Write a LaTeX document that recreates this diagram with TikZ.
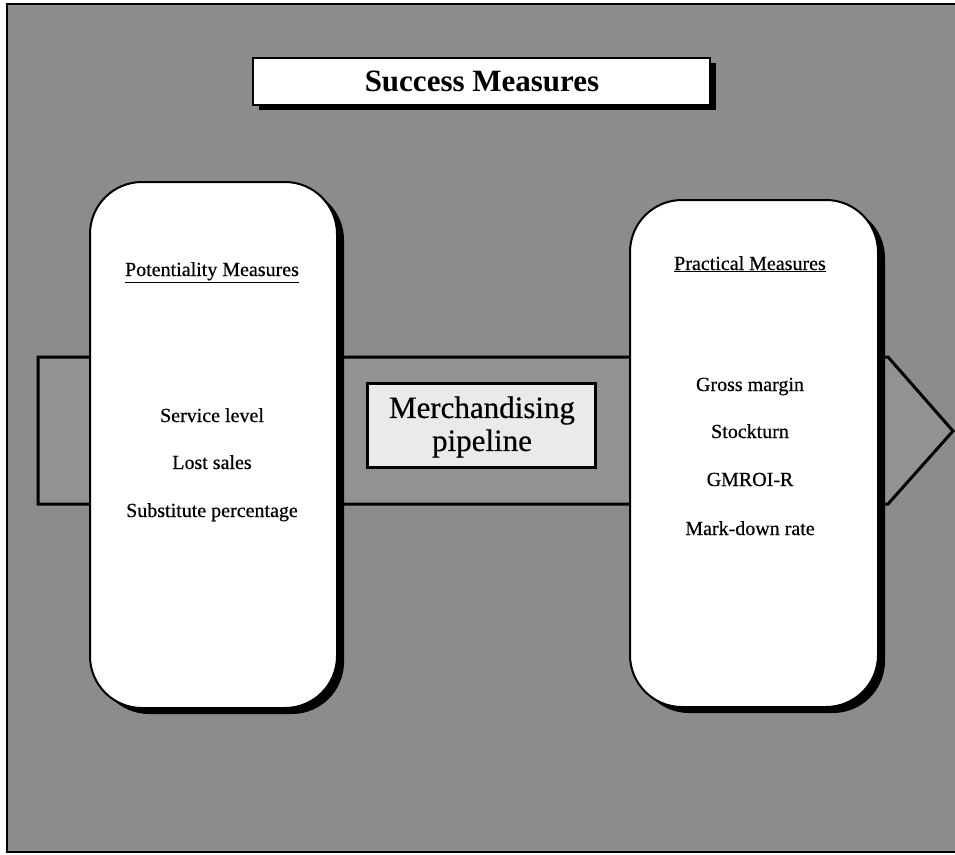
\documentclass[tikz,border=0pt]{standalone}
\usepackage{fontspec}
\setmainfont{Liberation Serif}
% slightly heavier serif for the printed labels
\newfontfamily\inkfont{Liberation Serif}[FakeBold=0.5]
\usetikzlibrary{shadows}
\definecolor{bggray}{RGB}{140,140,140}
\definecolor{arrowgray}{RGB}{146,146,146}
\definecolor{labelfill}{RGB}{234,234,234}
\begin{document}
\begin{tikzpicture}[x=1pt,y=-1pt,
  panel/.style={draw=black, line width=2pt, fill=white, rounded corners=52pt,
    inner sep=0pt,
    drop shadow={shadow xshift=7pt, shadow yshift=-6pt, fill=black, opacity=1}},
  titlebox/.style={draw=black, line width=2pt, fill=white, inner sep=0pt,
    drop shadow={shadow xshift=6pt, shadow yshift=-5pt, fill=black, opacity=1}},
  pipebox/.style={draw=black, line width=3pt, fill=labelfill, inner sep=0pt},
  head/.style={anchor=base, inner sep=0pt, font=\inkfont\fontsize{20}{24}\selectfont},
  item/.style={anchor=base, inner sep=0pt, font=\inkfont\fontsize{20}{24}\selectfont}]
\useasboundingbox (0,0) rectangle (955,854);
% textured grey page
\fill[bggray] (7,4) rectangle (960,852);
\draw[line width=1.2pt] (960,4) -- (7,4) -- (7,852) -- (960,852);

% pipeline arrow running behind the panels
\draw[line width=3pt, fill=arrowgray, line join=miter]
  (38,357) -- (888,357) -- (953,431) -- (888,504) -- (38,504) -- cycle;

% title
\node[titlebox, minimum width=457pt, minimum height=47pt] (title) at (481.5,81.5) {};
\node[anchor=base, inner sep=0pt, font=\fontsize{31}{36}\selectfont\bfseries] (titletext) at (482,91) {Success Measures};

% left panel
\node[panel, minimum width=247pt, minimum height=526pt] (left) at (213.5,445) {};
\node[head] (lefthead) at (212,276) {\underline{Potentiality Measures}};
\node[item] (l1) at (212,422) {Service level};
\node[item] (l2) at (212,469) {Lost sales};
\node[item] (l3) at (212,517) {Substitute percentage};

% right panel
\node[panel, minimum width=248pt, minimum height=507pt] (right) at (754,453.5) {};
\node[head] (righthead) at (750,270) {\underline{Practical Measures}};
\node[item] (r1) at (750,391) {Gross margin};
\node[item] (r2) at (750,438) {Stockturn};
\node[item] (r3) at (750,486) {GMROI-R};
\node[item] (r4) at (750,535) {Mark-down rate};

% pipeline label
\node[pipebox, minimum width=228pt, minimum height=84pt] (pipe) at (481,425) {};
\node[align=center, inner sep=0pt, font=\inkfont\fontsize{31}{33}\selectfont] (pipetext) at (482,427) {Merchandising\\pipeline};
\end{tikzpicture}
\end{document}
